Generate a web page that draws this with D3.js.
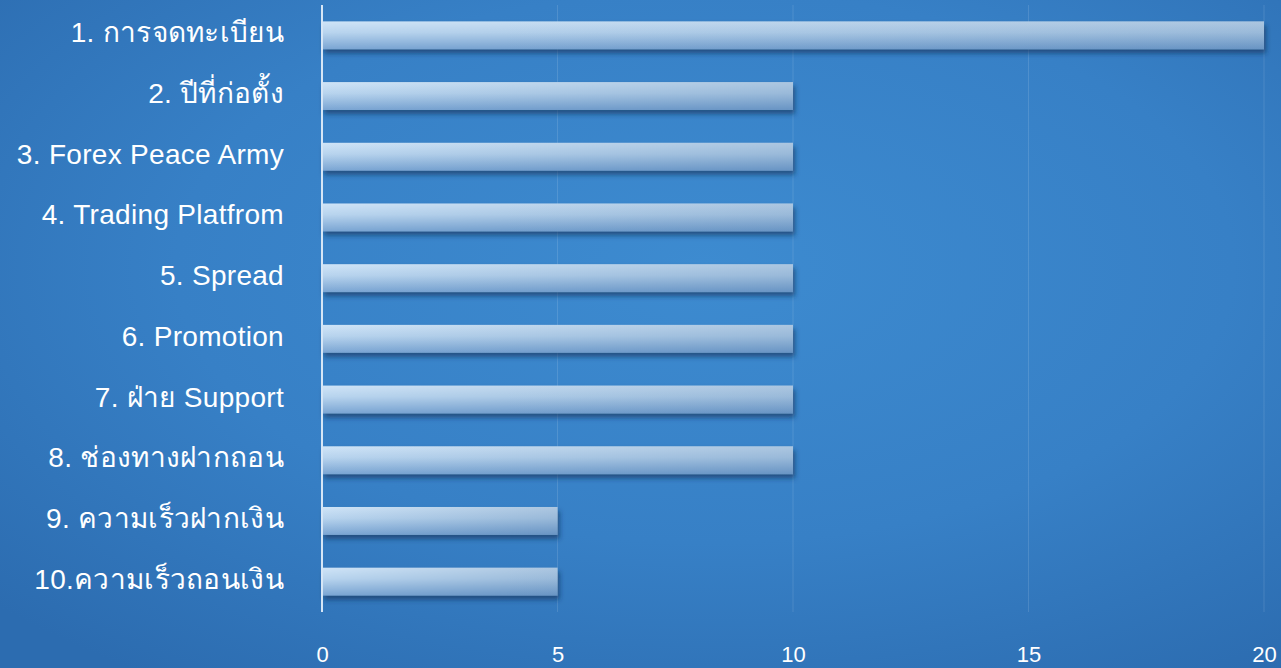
<!DOCTYPE html>
<html>
<head>
<meta charset="utf-8">
<script src="https://cdn.jsdelivr.net/npm/d3@7"></script>
<style>
  html, body { margin: 0; padding: 0; overflow: hidden; }
  svg { display: block; }
</style>
</head>
<body>
<div id="chart"></div>
<script>
// chart data
const categories = [
    "1. การจดทะเบียน",
    "2. ปีที่ก่อตั้ง",
    "3. Forex Peace Army",
    "4. Trading Platfrom",
    "5. Spread",
    "6. Promotion",
    "7. ฝ่าย Support",
    "8. ช่องทางฝากถอน",
    "9. ความเร็วฝากเงิน",
    "10.ความเร็วถอนเงิน"
]
const values = [20, 10, 10, 10, 10, 10, 10, 10, 5, 5]
const tickValues = [0, 5, 10, 15, 20]

const width = 1281,
    height = 668,
    margin = {top: 5, right: 17, bottom: 56, left: 322}

const svg = d3.select('#chart').append('svg')
    .attr('width', width)
    .attr('height', height)

const defs = svg.append('defs')

// Background: blue with lighter middle
const bg = defs.append('radialGradient')
    .attr('id', 'bg')
    .attr('cx', '55%').attr('cy', '40%').attr('r', '75%')
bg.append('stop').attr('offset', '0%').attr('stop-color', '#3d8bd0')
bg.append('stop').attr('offset', '55%').attr('stop-color', '#3780c6')
bg.append('stop').attr('offset', '100%').attr('stop-color', '#2c6cb0')

// Bar fill, light on top going darker at the bottom
const barGrad = defs.append('linearGradient')
    .attr('id', 'barGrad')
    .attr('x1', 0).attr('y1', 0).attr('x2', 0).attr('y2', 1)
barGrad.append('stop').attr('offset', '0%').attr('stop-color', '#cfe4f7')
barGrad.append('stop').attr('offset', '40%').attr('stop-color', '#b8d4ee')
barGrad.append('stop').attr('offset', '100%').attr('stop-color', '#7aa5d3')

// A little darker towards the right end
const barShade = defs.append('linearGradient')
    .attr('id', 'barShade')
    .attr('x1', 0).attr('y1', 0).attr('x2', 1).attr('y2', 0)
barShade.append('stop').attr('offset', '0%').attr('stop-color', '#1f4f86').attr('stop-opacity', 0)
barShade.append('stop').attr('offset', '100%').attr('stop-color', '#1f4f86').attr('stop-opacity', 0.2)

const shadow = defs.append('filter')
    .attr('id', 'shadow')
    .attr('x', '-5%').attr('y', '-30%').attr('width', '110%').attr('height', '180%')
shadow.append('feDropShadow')
    .attr('dx', 2).attr('dy', 4)
    .attr('stdDeviation', 2.5)
    .attr('flood-color', '#0b2a52')
    .attr('flood-opacity', 0.6)

svg.append('rect')
    .attr('width', width)
    .attr('height', height)
    .attr('fill', 'url(#bg)')

const x = d3.scaleLinear()
    .domain([0, 20])
    .range([margin.left, width - margin.right])

const y = d3.scaleBand()
    .domain(categories)
    .range([margin.top, height - margin.bottom])
    .paddingInner(0.54)
    .paddingOuter(0.27)

// Vertical grid lines
svg.append('g')
    .selectAll('line')
    .data(tickValues.slice(1))
    .enter().append('line')
    .attr('x1', d => x(d)).attr('x2', d => x(d))
    .attr('y1', margin.top).attr('y2', height - margin.bottom)
    .attr('stroke', '#ffffff')
    .attr('stroke-opacity', 0.12)
    .attr('stroke-width', 1)

// Bars
const bars = svg.append('g')
    .selectAll('g')
    .data(values)
    .enter().append('g')

bars.append('rect')
    .attr('x', x(0))
    .attr('y', (d, i) => y(categories[i]))
    .attr('width', d => x(d) - x(0))
    .attr('height', y.bandwidth())
    .attr('fill', 'url(#barGrad)')
    .attr('filter', 'url(#shadow)')

bars.append('rect')
    .attr('x', x(0))
    .attr('y', (d, i) => y(categories[i]))
    .attr('width', d => x(d) - x(0))
    .attr('height', y.bandwidth())
    .attr('fill', 'url(#barShade)')

// Axis line on the left
svg.append('line')
    .attr('x1', x(0)).attr('x2', x(0))
    .attr('y1', margin.top).attr('y2', height - margin.bottom)
    .attr('stroke', '#d6e6f6')
    .attr('stroke-width', 2)

// Category labels
svg.append('g')
    .selectAll('text')
    .data(categories)
    .enter().append('text')
    .attr('x', 284)
    .attr('y', d => y(d) + y.bandwidth() / 2 + 7)
    .attr('text-anchor', 'end')
    .attr('fill', '#ffffff')
    .attr('font-family', 'Liberation Sans, Arial, Noto Sans, sans-serif')
    .attr('font-size', '28px')
    .attr('letter-spacing', '0.3px')
    .text(d => d)

// Bottom tick labels
const xAxis = svg.append('g')
    .attr('transform', `translate(0, ${height - 6})`)
    .call(d3.axisBottom(x).tickValues(tickValues).tickSize(0).tickPadding(0))
xAxis.select('.domain').remove()
xAxis.selectAll('text')
    .attr('fill', '#ffffff')
    .attr('font-family', 'Liberation Sans, Arial, sans-serif')
    .attr('font-size', '22px')
    .attr('dy', 0)
</script>
</body>
</html>
